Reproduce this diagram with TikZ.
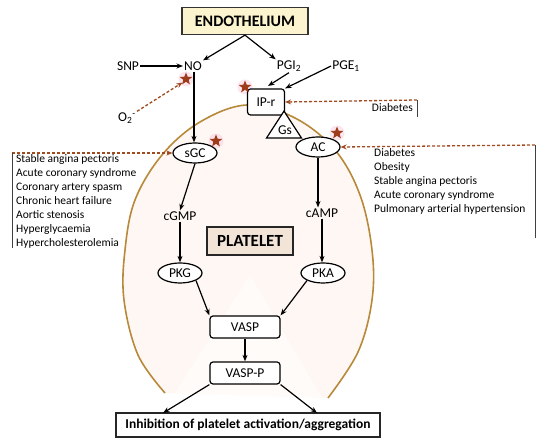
\documentclass[tikz,border=0pt]{standalone}
\usepackage{fontspec}
\setmainfont{Carlito}
\usetikzlibrary{arrows.meta,shapes.geometric}
\definecolor{membr}{HTML}{B8893A}
\definecolor{cellfill}{HTML}{FEF7F4}
\definecolor{dashbrown}{HTML}{A04A20}
\definecolor{starc}{HTML}{9E3B1B}
\definecolor{halo}{HTML}{F9D3E3}
\definecolor{endofill}{HTML}{FBF4CF}
\definecolor{platfill}{HTML}{F2E4D6}
\begin{document}
\begin{tikzpicture}[x=1pt,y=-1pt,
  lbl/.style={font=\fontsize{13.5}{15}\selectfont, inner sep=1pt},
  lst/.style={font=\fontsize{11.5}{14}\selectfont, align=left, inner sep=0pt, anchor=west},
  arr/.style={-{Stealth[length=6.5pt,width=5pt]}, line width=1.2pt, black},
  darr/.style={-{Stealth[length=6pt,width=5pt]}, line width=1.3pt, dashbrown, dash pattern=on 3pt off 2pt},
  oval/.style={ellipse, draw, line width=1.2pt, minimum width=44pt, minimum height=20pt, inner sep=0pt, font=\fontsize{13.5}{15}\selectfont},
  rbox/.style={draw, rounded corners=3pt, line width=1.2pt, minimum width=70pt, minimum height=22pt, inner sep=0pt, font=\fontsize{13.5}{15}\selectfont},
  mark5/.style={star, star points=5, star point ratio=2.3, fill=starc, minimum size=13pt, inner sep=0pt},
  halomark/.style={circle, fill=halo, opacity=0.6, minimum size=15pt, inner sep=0pt},
  bar/.style={line width=0.9pt, black!75}
]
\useasboundingbox (0,0) rectangle (550,446);

% platelet membrane
\path[fill=cellfill] plot[smooth, tension=0.6] coordinates {(165,393) (138,355) (124,300) (125,250) (135,200) (162,155) (200,122) (247,105) (295,118) (335,150) (360,195) (372,250) (372,300) (358,352) (328,398)} -- cycle;
\fill[white, opacity=0.5] (250,275) -- (172,398) -- (322,398) -- cycle;
\draw[membr, line width=1.6pt] plot[smooth, tension=0.6] coordinates {(165,393) (138,355) (124,300) (125,250) (135,200) (162,155) (200,122) (247,105) (295,118) (335,150) (360,195) (372,250) (372,300) (358,352) (328,398)};

% top
\node[draw=black!80, fill=endofill, line width=1.3pt, minimum width=126pt, minimum height=27pt, font=\fontsize{16}{18}\selectfont\bfseries] (endo) at (245,21) {ENDOTHELIUM};
\node[lbl] (snp) at (128,66) {SNP};
\node[lbl] (no) at (193,66) {NO};
\node[lbl] (pgi) at (289,66) {PGI\textsubscript{2}};
\node[lbl] (pge) at (346,66) {PGE\textsubscript{1}};
\node[lbl] (o2) at (127,118) {O\textsubscript{2}\textsuperscript{-}};

\draw[arr] (endo.south) -- (no.north east);
\draw[arr] (endo.south) -- (pgi.north west);
\draw[arr] (snp.east) -- (no.west);

% star halos
\node[halomark] (h1) at (186,79) {};
\node[halomark] (h2) at (245,87) {};
\node[halomark] (h3) at (216,141) {};
\node[halomark] (h4) at (337,133) {};

% receptor side
\node[draw, rounded corners=3pt, line width=1.2pt, minimum width=37pt, minimum height=26pt, inner sep=0pt, font=\fontsize{13.5}{15}\selectfont, fill=white] (ipr) at (266,102) {IP-r};
\draw[arr] (pgi.south) -- (268,86);
\draw[arr] (pge.west) -- (ipr.north east);
\node[draw, line width=1.2pt, isosceles triangle, isosceles triangle apex angle=66, shape border rotate=90, minimum height=27pt, inner sep=0pt, fill=white, anchor=apex] (gs) at (284,110) {};
\node[font=\fontsize{13.5}{15}\selectfont] (gstxt) at (285,130) {Gs};
\node[oval, fill=white] (ac) at (318,147) {AC};
\node[lbl] (camp) at (322,213) {cAMP};
\node[oval, fill=white] (pka) at (323,273) {PKA};

% NO side
\node[oval, fill=white] (sgc) at (195,153) {sGC};
\node[lbl] (cgmp) at (180,216) {cGMP};
\node[oval, fill=white] (pkg) at (180,273) {PKG};

\draw[arr] (no.south) ++(1,0) coordinate (nos) -- (nos |- sgc.north);
\draw[arr] (sgc.south) -- (cgmp.north);
\draw[arr] (cgmp.south) -- (pkg.north);
\draw[arr] (ac.south) -- (ac.south |- camp.north);
\draw[arr] (camp.south) -- (camp.south |- pka.north);

\node[draw=black!85, fill=platfill, line width=1.3pt, minimum width=86pt, minimum height=28pt, font=\fontsize{17}{19}\selectfont\bfseries] (plat) at (250,241) {PLATELET};

\node[rbox, fill=white] (vasp) at (245,327) {VASP};
\node[rbox, fill=white] (vaspp) at (245,373) {VASP-P};
\node[draw=black!85, fill=white, line width=1.4pt, minimum width=264pt, minimum height=24pt, inner sep=0pt, font=\fontsize{13.5}{15}\selectfont\bfseries] (inh) at (248,425) {Inhibition of platelet activation/aggregation};

\draw[arr] (pkg.south east) -- (vasp.north west);
\draw[arr] (pka.south west) -- (vasp.north east);
\draw[arr] (vasp) -- (vaspp);
\draw[arr] (vaspp.south west) -- (163,413);
\draw[arr] (vaspp.south east) -- (317,413);

% stars
\node[mark5] (s1) at (186,79) {};
\node[mark5] (s2) at (245,87) {};
\node[mark5] (s3) at (216,141) {};
\node[mark5] (s4) at (337,133) {};

% disease lists
\coordinate (dgc) at (12,153);
\coordinate (dac) at (535,145);
\coordinate (dip) at (417,100);
\draw[darr] (o2.north east) -- (s1.south west);
\draw[darr] (dgc) -- (sgc.west);
\draw[darr] (dac) -- (ac.east);
\draw[darr] (dip) -- (ipr.east);
\draw[bar] (dgc) -- (12,248);
\draw[bar] (dac) -- (535,238);
\draw[bar] (dip) -- (417,117);

\node[lst] (lgc) at (16,201) {Stable angina pectoris\\Acute coronary syndrome\\Coronary artery spasm\\Chronic heart failure\\Aortic stenosis\\Hyperglycaemia\\Hypercholesterolemia};
\node[lst] (lac) at (374,181) {Diabetes\\Obesity\\Stable angina pectoris\\Acute coronary syndrome\\Pulmonary arterial hypertension};
\node[font=\fontsize{11.5}{14}\selectfont, inner sep=0pt, anchor=east] (ldia) at (413,108) {Diabetes};
\end{tikzpicture}
\end{document}
